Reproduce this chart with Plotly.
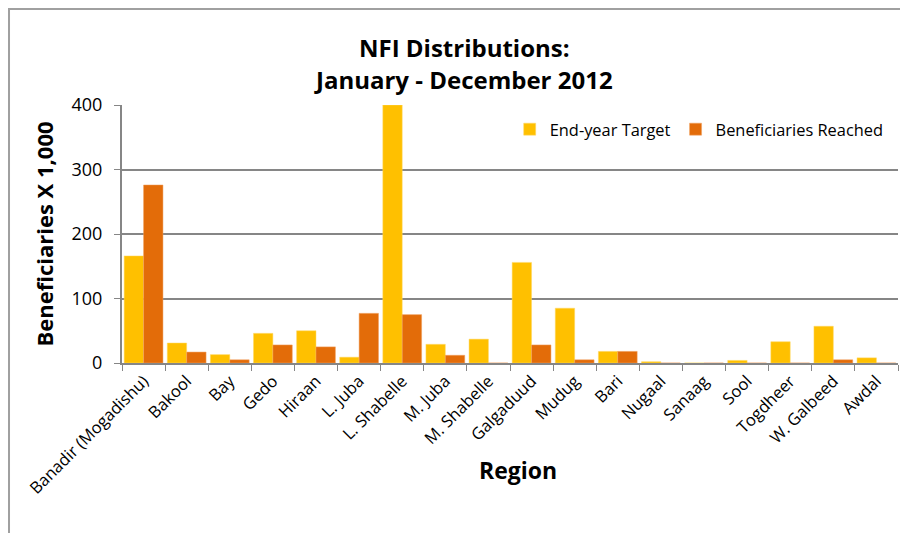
import plotly.graph_objects as go

regions = ["Banadir (Mogadishu)", "Bakool", "Bay", "Gedo", "Hiraan", "L. Juba",
           "L. Shabelle", "M. Juba", "M. Shabelle", "Galgaduud", "Mudug", "Bari",
           "Nugaal", "Sanaag", "Sool", "Togdheer", "W. Galbeed", "Awdal"]
end_year_target = [166, 31, 13, 46, 50, 9, 400, 29, 37, 156, 85, 18, 2, 0, 4, 33, 57, 8]
beneficiaries_reached = [276, 17, 5, 28, 25, 77, 75, 12, 0, 28, 5, 18, 0, 0, 0, 0, 5, 0]
y_ticks = [0, 100, 200, 300, 400]

FONT = "Open Sans"

fig = go.Figure()
fig.add_trace(go.Bar(x=regions, y=end_year_target, name="End-year Target",
                     marker=dict(color="#FFC000", line=dict(color="#FFD966", width=0.5))))
fig.add_trace(go.Bar(x=regions, y=beneficiaries_reached, name="Beneficiaries Reached",
                     marker=dict(color="#E36C09", line=dict(color="#F0A060", width=0.5))))

fig.update_layout(
    width=900, height=525,
    margin=dict(l=114, r=10, t=97, b=170, autoexpand=False),
    paper_bgcolor="white", plot_bgcolor="white",
    barmode="group", bargap=0.1, bargroupgap=0,
    font=dict(family=FONT, color="black"),
    title=dict(text="<b>NFI Distributions:</b><br><b>January - December 2012</b>",
               x=0.507, xanchor="center", xref="container", y=0.906, yanchor="top",
               font=dict(size=24, family=FONT)),
    legend=dict(orientation="h", x=0.988, xanchor="right", y=0.973, yanchor="top",
                font=dict(size=16.4, family=FONT), bgcolor="rgba(0,0,0,0)",
                traceorder="normal", itemwidth=30),
    showlegend=True,
)
fig.update_xaxes(
    tickangle=-45, tickfont=dict(size=16.5, family=FONT), automargin=False,
    showline=True, linecolor="#868686", linewidth=2,
    ticks="outside", tickson="boundaries", ticklen=6, tickcolor="#868686",
    showgrid=False,
)
fig.update_yaxes(
    title=dict(text="<b>Beneficiaries X 1,000</b>", font=dict(size=22, family=FONT), standoff=12),
    range=[0, 400], tickvals=y_ticks, tickfont=dict(size=18, family=FONT), automargin=False,
    ticklabelstandoff=8,
    showline=True, linecolor="#868686", linewidth=2,
    ticks="outside", ticklen=6, tickcolor="#868686",
    showgrid=True, gridcolor="#868686", gridwidth=1.5, zeroline=False,
)
fig.add_annotation(text="<b>Region</b>", xref="paper", yref="paper",
                   x=0.51, y=-0.415, xanchor="center", yanchor="middle",
                   showarrow=False, font=dict(size=23, family=FONT, color="black"))
fig.add_shape(type="rect", xref="paper", yref="paper",
              x0=-0.1456, x1=1.2, y0=-1.2, y1=1.372,
              line=dict(color="#A0A0A0", width=2), layer="below")

fig.write_html("out.html")
